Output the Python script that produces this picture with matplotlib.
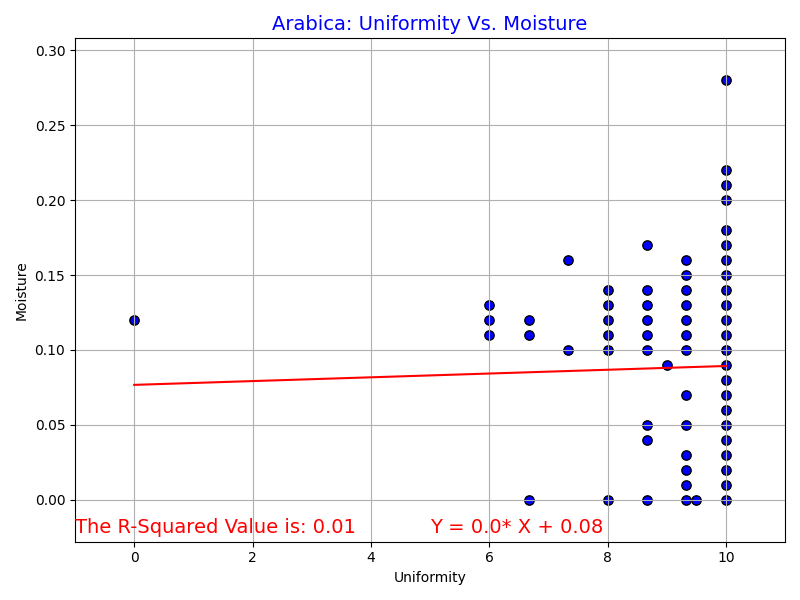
import numpy as np
import matplotlib.pyplot as plt

# uniformity columns and the moisture values seen in each one
col_x = [0, 6, 6.67, 7.33, 8, 8.67, 9, 9.33, 9.5, 10]
col_y = [
    [0.12],
    [0.11, 0.12, 0.13],
    [0.0, 0.11, 0.12],
    [0.10, 0.16],
    [0.0, 0.10, 0.11, 0.12, 0.13, 0.14],
    [0.0, 0.04, 0.05, 0.10, 0.11, 0.12, 0.13, 0.14, 0.17],
    [0.09],
    [0.0, 0.01, 0.02, 0.03, 0.05, 0.07, 0.10, 0.11, 0.12, 0.13, 0.14, 0.15, 0.16],
    [0.0],
    [0.0, 0.01, 0.02, 0.03, 0.04, 0.05, 0.06, 0.07, 0.08, 0.09, 0.10, 0.11,
     0.12, 0.13, 0.14, 0.15, 0.16, 0.17, 0.18, 0.20, 0.21, 0.22, 0.28],
]

# regression line
slope = 0.00126
intercept = 0.0767
r_squared = 0.01

uniformity = []
moisture = []
for x, ys in zip(col_x, col_y):
    for y in ys:
        uniformity.append(x)
        moisture.append(y)
uniformity = np.array(uniformity)
moisture = np.array(moisture)

fig, ax = plt.subplots(figsize=(8, 6), dpi=100)
ax.scatter(uniformity, moisture, color='blue', edgecolor='black', s=45)

line_x = np.array([uniformity.min(), uniformity.max()])
ax.plot(line_x, slope * line_x + intercept, color='red')

ax.text(-1, -0.022, "The R-Squared Value is: " + str(r_squared), fontsize=14, color='red')
ax.text(5, -0.022, "Y = " + str(round(slope, 2)) + "* X + " + str(round(intercept, 2)),
        fontsize=14, color='red')

ax.set_xlim(-1, 11)
ax.set_ylim(-0.028, 0.308)
ax.set_title("Arabica: Uniformity Vs. Moisture", color='blue', fontsize=14)
ax.set_xlabel("Uniformity")
ax.set_ylabel("Moisture")
ax.grid(True)

plt.tight_layout()
plt.savefig("out.png")
